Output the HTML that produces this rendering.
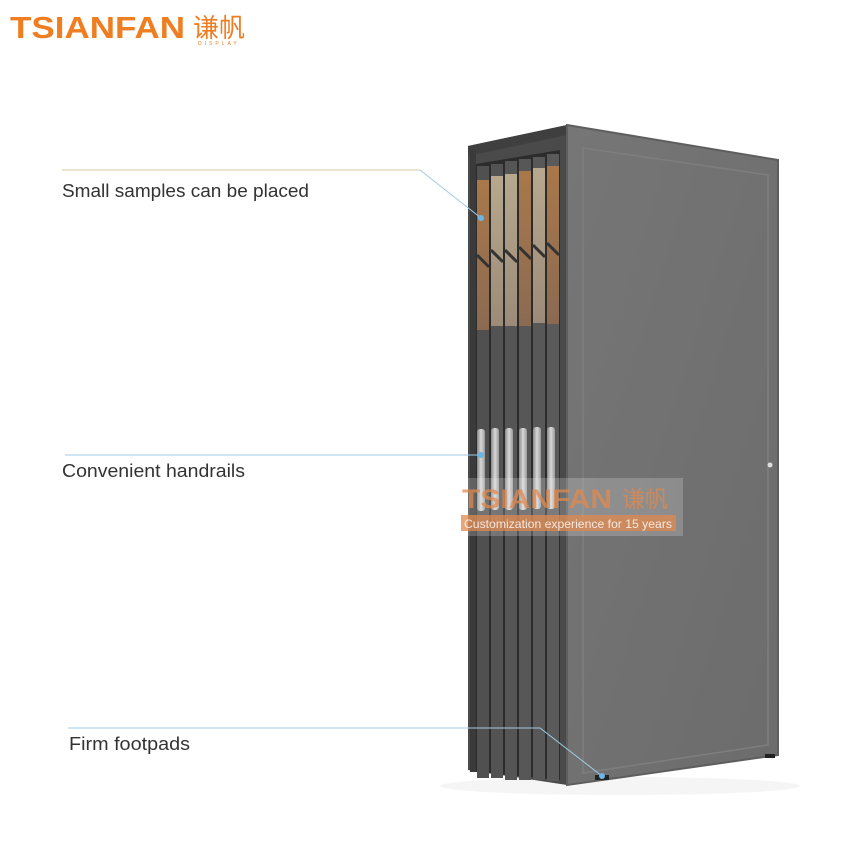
<!DOCTYPE html>
<html><head><meta charset="utf-8"><style>
body{margin:0;background:#fff;width:850px;height:850px;overflow:hidden;font-family:"Liberation Sans","Noto Sans CJK SC",sans-serif}
</style></head><body>
<svg width="850" height="850" xmlns="http://www.w3.org/2000/svg">
<defs>
<linearGradient id="tile1" x1="0" y1="0" x2="0" y2="1"><stop offset="0" stop-color="#a9784a"/><stop offset="1" stop-color="#8b6a52"/></linearGradient>
<linearGradient id="tile2" x1="0" y1="0" x2="0" y2="1"><stop offset="0" stop-color="#b7a88f"/><stop offset="1" stop-color="#9c8b78"/></linearGradient>
<linearGradient id="side" x1="0" y1="0" x2="1" y2="1"><stop offset="0" stop-color="#767676"/><stop offset="1" stop-color="#6c6c6c"/></linearGradient>
<linearGradient id="rail" x1="0" y1="0" x2="1" y2="0"><stop offset="0" stop-color="#888"/><stop offset=".5" stop-color="#d8d8d8"/><stop offset="1" stop-color="#999"/></linearGradient>
</defs>
<!-- logo -->
<text x="10" y="38" font-size="31" font-weight="bold" fill="#ef7d22" textLength="175" lengthAdjust="spacingAndGlyphs">TSIANFAN</text>
<text x="193" y="37" font-size="26" fill="#ef7d22" font-family="Noto Sans CJK SC,sans-serif">谦帆</text>
<text x="198" y="45" font-size="5" fill="#ef7d22" letter-spacing="3">DISPLAY</text>
<!-- shadow -->
<ellipse cx="620" cy="786" rx="180" ry="9" fill="#f5f5f5"/>
<!-- front dark face -->
<polygon points="468,146 567,125 567,785 468,770" fill="#4a4a4a"/>
<polygon points="468,146 567,125 567,135 468,156" fill="#3f3f3f"/>
<rect x="470" y="150" width="6" height="622" fill="#3a3a3a"/>
<polygon points="476,164 560,150 560,780 476,772" fill="#2c2c2c"/>
<g>
<rect x="477" y="166" width="12" height="612" fill="#505050"/>
<rect x="491" y="164" width="12" height="614" fill="#535353"/>
<rect x="505" y="161" width="12" height="619" fill="#555"/>
<rect x="519" y="159" width="12" height="621" fill="#575757"/>
<rect x="533" y="157" width="12" height="623" fill="#585858"/>
<rect x="547" y="154" width="12" height="627" fill="#5a5a5a"/>
</g>
<g>
<rect x="477" y="180" width="12" height="150" fill="url(#tile1)"/>
<rect x="491" y="176" width="12" height="150" fill="url(#tile2)"/>
<rect x="505" y="174" width="12" height="152" fill="url(#tile2)"/>
<rect x="519" y="171" width="12" height="155" fill="url(#tile1)"/>
<rect x="533" y="168" width="12" height="155" fill="url(#tile2)"/>
<rect x="547" y="166" width="12" height="158" fill="url(#tile1)"/>
<path d="M477,255 l12,12 M491,250 l12,12 M505,250 l12,12 M519,247 l12,12 M533,245 l12,12 M547,243 l12,12" stroke="#333" stroke-width="3"/>
</g>
<g fill="url(#rail)">
<rect x="477" y="429" width="8" height="82" rx="3"/>
<rect x="491" y="428" width="8" height="82" rx="3"/>
<rect x="505" y="428" width="8" height="82" rx="3"/>
<rect x="519" y="428" width="8" height="82" rx="3"/>
<rect x="533" y="427" width="8" height="82" rx="3"/>
<rect x="547" y="427" width="8" height="82" rx="3"/>
</g>
<!-- side face -->
<polygon points="567,125 778,160 778,755 567,785" fill="url(#side)"/>
<polygon points="567,125 778,160 778,755 567,785" fill="none" stroke="#5e5e5e" stroke-width="2"/>
<polygon points="583,148 768,175 768,745 583,773" fill="none" stroke="#7e7e7e" stroke-width="1.5"/>
<circle cx="770" cy="465" r="2.5" fill="#ddd"/>
<rect x="595" y="775" width="14" height="5" fill="#222"/>
<rect x="765" y="754" width="10" height="4" fill="#222"/>
<!-- watermark -->
<rect x="460" y="478" width="223" height="58" fill="#fff" fill-opacity="0.2"/>
<text x="462" y="508" font-size="27" font-weight="bold" fill="#e08a4f" fill-opacity="0.75" textLength="150" lengthAdjust="spacingAndGlyphs">TSIANFAN</text>
<text x="622" y="507" font-size="23" fill="#e08a4f" fill-opacity="0.75" font-family="Noto Sans CJK SC,sans-serif">谦帆</text>
<rect x="461" y="515" width="215" height="16" fill="#e08a4f" fill-opacity="0.75"/>
<text x="464" y="528" font-size="12" fill="#fff" fill-opacity="0.8" textLength="208" lengthAdjust="spacingAndGlyphs">Customization experience for 15 years</text>
<!-- callouts -->
<g stroke="#9fcbe6" stroke-width="1" fill="none">
<polyline points="420,170 481,218"/>
<polyline points="65,455 481,455"/>
<polyline points="68,728 540,728 602,776"/>
</g>
<line x1="62" y1="170" x2="420" y2="170" stroke="#d8c9a0" stroke-width="1"/>
<g fill="#6ab6e6">
<circle cx="481" cy="218" r="3"/>
<circle cx="481" cy="455" r="3"/>
<circle cx="602" cy="776" r="3"/>
</g>
<g font-size="18" fill="#333">
<text x="62" y="197" textLength="247" lengthAdjust="spacingAndGlyphs">Small samples can be placed</text>
<text x="62" y="477" textLength="183" lengthAdjust="spacingAndGlyphs">Convenient handrails</text>
<text x="69" y="750" textLength="121" lengthAdjust="spacingAndGlyphs">Firm footpads</text>
</g>
</svg>
</body></html>
